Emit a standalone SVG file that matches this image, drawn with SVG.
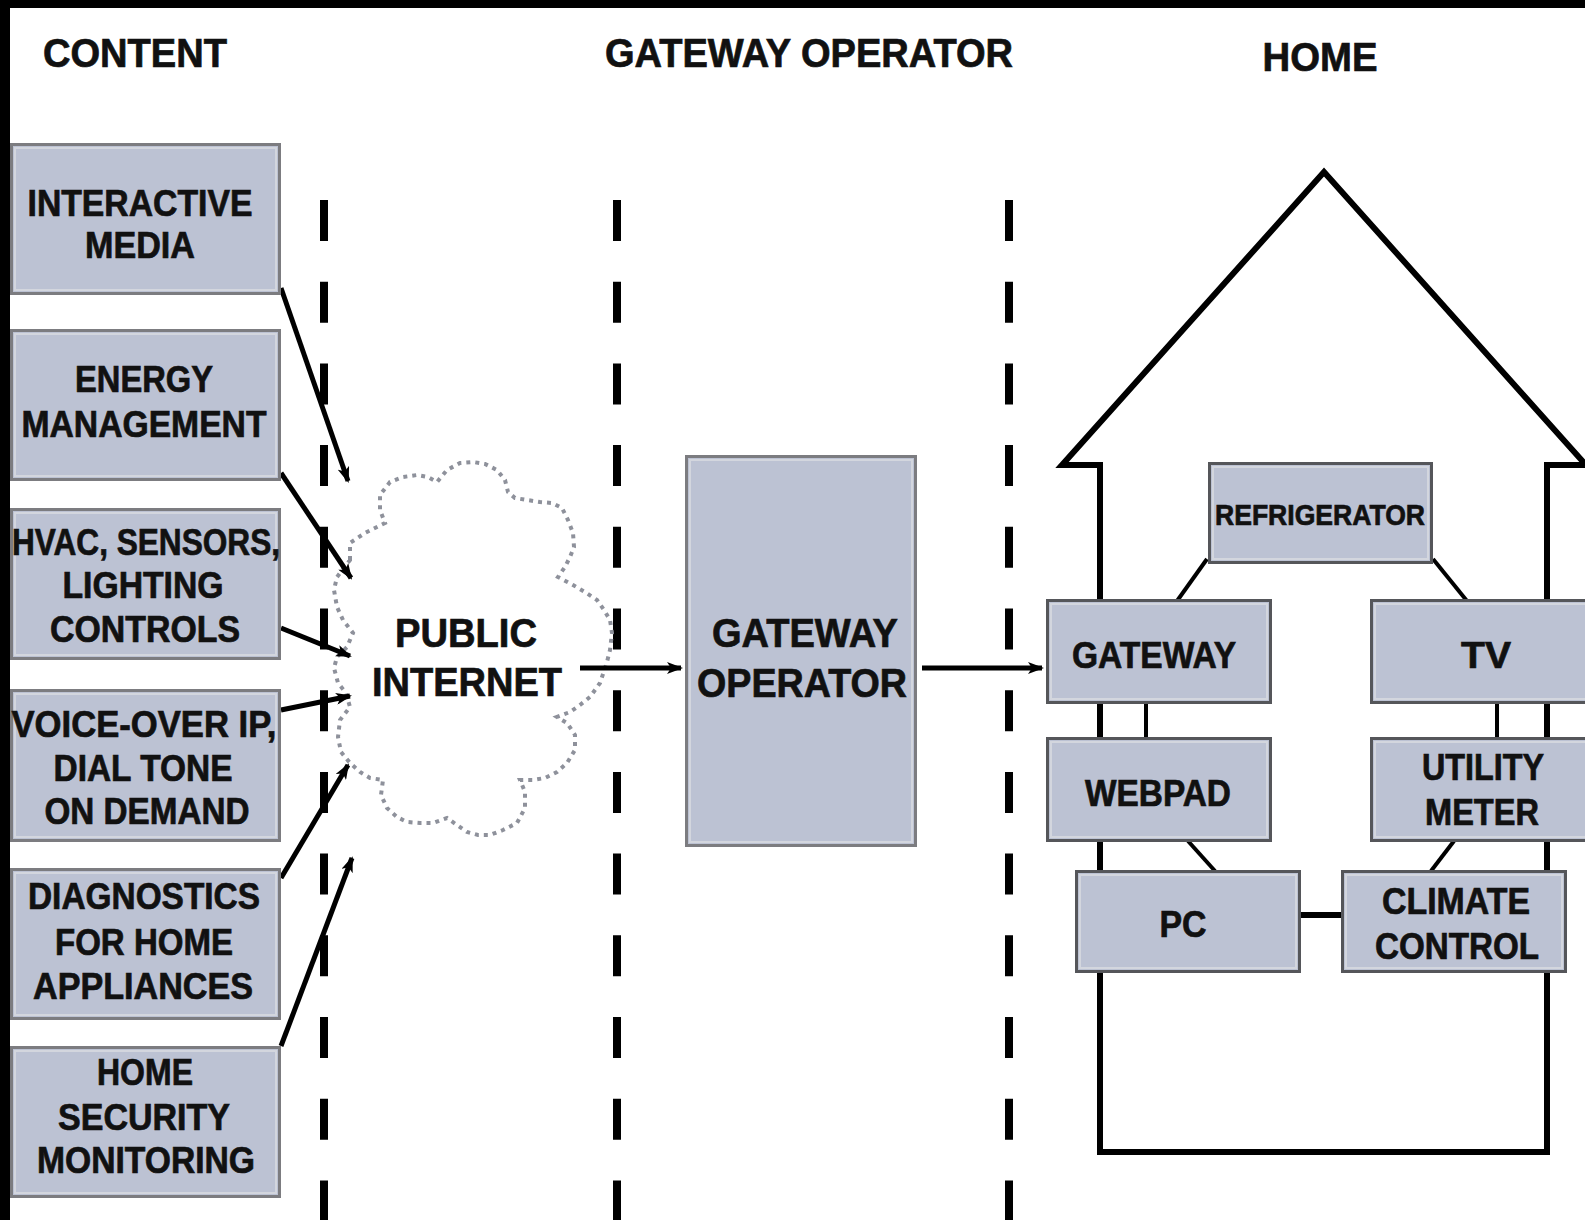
<svg xmlns="http://www.w3.org/2000/svg" width="1585" height="1220" viewBox="0 0 1585 1220">
<defs>
<style>
.t{font-family:"Liberation Sans",Arial,sans-serif;font-weight:bold;fill:#111;stroke:#111;stroke-width:0.7;text-anchor:middle}
.s36{font-size:36px}.s40{font-size:40px}.s29{font-size:29px}
.box{fill:#bcc2d3;stroke:#7c7c80;stroke-width:3}
.rbox{fill:#bcc2d3;stroke:#55565a;stroke-width:3}
.hl{fill:none;stroke:#d3d6de;stroke-width:2}
.dash{stroke:#000;stroke-width:8;stroke-dasharray:41 40.7;fill:none}
.arr{stroke:#000;stroke-width:5;fill:none;marker-end:url(#ah)}
.ln{stroke:#000;stroke-width:4;fill:none}
.wall{stroke:#000;stroke-width:6;fill:none;stroke-linejoin:miter}
</style>
<marker id="ah" viewBox="0 0 16 12" markerWidth="16" markerHeight="12" refX="14" refY="6" orient="auto" markerUnits="userSpaceOnUse">
<path d="M0,0 L16,6 L0,12 L4,6 z" fill="#000"/>
</marker>
</defs>
<rect x="0" y="0" width="1585" height="1220" fill="#fff"/>
<rect x="0" y="0" width="1585" height="8" fill="#000"/>
<rect x="0" y="0" width="10" height="1220" fill="#000"/>

<g id="headers">
<text class="t s40" x="135" y="67" textLength="184" lengthAdjust="spacingAndGlyphs">CONTENT</text>
<text class="t s40" x="809" y="67" textLength="408" lengthAdjust="spacingAndGlyphs">GATEWAY OPERATOR</text>
<text class="t s40" x="1320" y="71" textLength="115" lengthAdjust="spacingAndGlyphs">HOME</text>
</g>

<g id="dividers">
<line class="dash" x1="324" y1="200" x2="324" y2="1220"/>
<line class="dash" x1="617" y1="200" x2="617" y2="1220"/>
<line class="dash" x1="1009" y1="200" x2="1009" y2="1220"/>
</g>

<g id="house">
<path class="wall" d="M1100,1152 L1100,465 L1062,465 L1324,172 L1586,465 L1547,465 L1547,1152 Z"/>
</g>

<g id="cloud">
<path d="M350,560 L350,543 L365,533 L385,523 L380,510 L380,495 L390,482 L403,477 L417,475 L428,477 L437,482 L447,470 L460,463 L473,462 L485,464 L497,470 L505,480 L508,492 L515,498 L527,500 L540,502 L552,503 L562,508 L568,520 L573,533 L574,547 L570,557 L565,567 L558,577 L573,585 L585,592 L597,600 L604,610 L610,620 L612,633 L610,650 L607,662 L600,683 L590,697 L580,705 L570,712 L557,717 L567,723 L575,735 L575,750 L567,763 L557,772 L545,778 L533,780 L520,780 L525,792 L525,808 L517,823 L503,830 L490,835 L478,835 L467,832 L457,825 L447,818 L433,823 L420,823 L407,822 L397,817 L387,808 L381,795 L383,780 L370,778 L360,772 L350,763 L341,752 L338,737 L340,720 L350,707 L346,693 L338,683 L334,668 L337,657 L347,647 L353,633 L343,620 L337,607 L334,590 L337,577 Z" fill="none" stroke="#8e919b" stroke-width="4" stroke-dasharray="4 5"/>
<text class="t s40" x="466" y="647" textLength="142" lengthAdjust="spacingAndGlyphs">PUBLIC</text>
<text class="t s40" x="467" y="696" textLength="190" lengthAdjust="spacingAndGlyphs">INTERNET</text>
</g>

<g id="connectors">
<line class="arr" x1="281" y1="288" x2="348" y2="481"/>
<line class="arr" x1="281" y1="473" x2="351" y2="578"/>
<line class="arr" x1="281" y1="628" x2="350" y2="656"/>
<line class="arr" x1="281" y1="710" x2="350" y2="696"/>
<line class="arr" x1="281" y1="878" x2="348" y2="765"/>
<line class="arr" x1="281" y1="1046" x2="352" y2="858"/>
<line class="arr" x1="580" y1="668" x2="681" y2="668"/>
<line class="arr" x1="922" y1="668" x2="1042" y2="668"/>
<line class="ln" x1="1207" y1="559" x2="1177" y2="601"/>
<line class="ln" x1="1433" y1="559" x2="1467" y2="601"/>
<line class="ln" x1="1146" y1="703" x2="1146" y2="738"/>
<line class="ln" x1="1497" y1="703" x2="1497" y2="738"/>
<line class="ln" x1="1188" y1="841" x2="1215" y2="871"/>
<line class="ln" x1="1454" y1="841" x2="1431" y2="871"/>
<line x1="1300" y1="915" x2="1342" y2="915" stroke="#000" stroke-width="6"/>
</g>

<g id="interactive-media">
<rect class="box" x="11.5" y="144.5" width="268" height="149"/>
<rect class="hl" x="15" y="148" width="261" height="142"/>
<text class="t s36" x="140" y="216" textLength="225" lengthAdjust="spacingAndGlyphs">INTERACTIVE</text>
<text class="t s36" x="140" y="258" textLength="110" lengthAdjust="spacingAndGlyphs">MEDIA</text>
</g>
<g id="energy-management">
<rect class="box" x="11.5" y="330.5" width="268" height="149"/>
<rect class="hl" x="15" y="334" width="261" height="142"/>
<text class="t s36" x="144" y="392" textLength="138" lengthAdjust="spacingAndGlyphs">ENERGY</text>
<text class="t s36" x="144" y="437" textLength="245" lengthAdjust="spacingAndGlyphs">MANAGEMENT</text>
</g>
<g id="hvac">
<rect class="box" x="11.5" y="509.5" width="268" height="149"/>
<rect class="hl" x="15" y="513" width="261" height="142"/>
<text class="t s36" x="146" y="555" textLength="268" lengthAdjust="spacingAndGlyphs">HVAC, SENSORS,</text>
<text class="t s36" x="143" y="598" textLength="161" lengthAdjust="spacingAndGlyphs">LIGHTING</text>
<text class="t s36" x="145" y="642" textLength="190" lengthAdjust="spacingAndGlyphs">CONTROLS</text>
</g>
<g id="voip">
<rect class="box" x="11.5" y="690.5" width="268" height="150"/>
<rect class="hl" x="15" y="694" width="261" height="143"/>
<text class="t s36" x="144" y="737" textLength="265" lengthAdjust="spacingAndGlyphs">VOICE-OVER IP,</text>
<text class="t s36" x="143" y="781" textLength="179" lengthAdjust="spacingAndGlyphs">DIAL TONE</text>
<text class="t s36" x="147" y="824" textLength="205" lengthAdjust="spacingAndGlyphs">ON DEMAND</text>
</g>
<g id="diagnostics">
<rect class="box" x="11.5" y="869.5" width="268" height="149"/>
<rect class="hl" x="15" y="873" width="261" height="142"/>
<text class="t s36" x="144" y="909" textLength="232" lengthAdjust="spacingAndGlyphs">DIAGNOSTICS</text>
<text class="t s36" x="144" y="955" textLength="178" lengthAdjust="spacingAndGlyphs">FOR HOME</text>
<text class="t s36" x="143" y="999" textLength="220" lengthAdjust="spacingAndGlyphs">APPLIANCES</text>
</g>
<g id="home-security">
<rect class="box" x="11.5" y="1047.5" width="268" height="149"/>
<rect class="hl" x="15" y="1051" width="261" height="142"/>
<text class="t s36" x="145" y="1085" textLength="96" lengthAdjust="spacingAndGlyphs">HOME</text>
<text class="t s36" x="144" y="1130" textLength="172" lengthAdjust="spacingAndGlyphs">SECURITY</text>
<text class="t s36" x="146" y="1173" textLength="218" lengthAdjust="spacingAndGlyphs">MONITORING</text>
</g>

<g id="gateway-operator">
<rect class="box" x="686.5" y="456.5" width="229" height="389"/>
<rect class="hl" x="690" y="460" width="222" height="382"/>
<text class="t s40" x="805" y="647" textLength="186" lengthAdjust="spacingAndGlyphs">GATEWAY</text>
<text class="t s40" x="802" y="697" textLength="210" lengthAdjust="spacingAndGlyphs">OPERATOR</text>
</g>

<g id="refrigerator">
<rect class="rbox" x="1209.5" y="463.5" width="222" height="99"/>
<rect class="hl" x="1213" y="467" width="215" height="92"/>
<text class="t s29" x="1320" y="525" textLength="210" lengthAdjust="spacingAndGlyphs">REFRIGERATOR</text>
</g>
<g id="gateway">
<rect class="rbox" x="1047.5" y="600.5" width="223" height="102"/>
<rect class="hl" x="1051" y="604" width="216" height="95"/>
<text class="t s36" x="1154" y="668" textLength="164" lengthAdjust="spacingAndGlyphs">GATEWAY</text>
</g>
<g id="tv">
<rect class="rbox" x="1371.5" y="600.5" width="240" height="102"/>
<rect class="hl" x="1375" y="604" width="233" height="95"/>
<text class="t s36" x="1486" y="668" textLength="50" lengthAdjust="spacingAndGlyphs">TV</text>
</g>
<g id="webpad">
<rect class="rbox" x="1047.5" y="738.5" width="223" height="102"/>
<rect class="hl" x="1051" y="742" width="216" height="95"/>
<text class="t s36" x="1158" y="806" textLength="146" lengthAdjust="spacingAndGlyphs">WEBPAD</text>
</g>
<g id="utility-meter">
<rect class="rbox" x="1371.5" y="738.5" width="240" height="102"/>
<rect class="hl" x="1375" y="742" width="233" height="95"/>
<text class="t s36" x="1483" y="780" textLength="122" lengthAdjust="spacingAndGlyphs">UTILITY</text>
<text class="t s36" x="1482" y="825" textLength="114" lengthAdjust="spacingAndGlyphs">METER</text>
</g>
<g id="pc">
<rect class="rbox" x="1076.5" y="871.5" width="223" height="100"/>
<rect class="hl" x="1080" y="875" width="216" height="93"/>
<text class="t s36" x="1183" y="937" textLength="47" lengthAdjust="spacingAndGlyphs">PC</text>
</g>
<g id="climate-control">
<rect class="rbox" x="1342.5" y="871.5" width="223" height="100"/>
<rect class="hl" x="1346" y="875" width="216" height="93"/>
<text class="t s36" x="1456" y="914" textLength="148" lengthAdjust="spacingAndGlyphs">CLIMATE</text>
<text class="t s36" x="1457" y="959" textLength="164" lengthAdjust="spacingAndGlyphs">CONTROL</text>
</g>
</svg>
